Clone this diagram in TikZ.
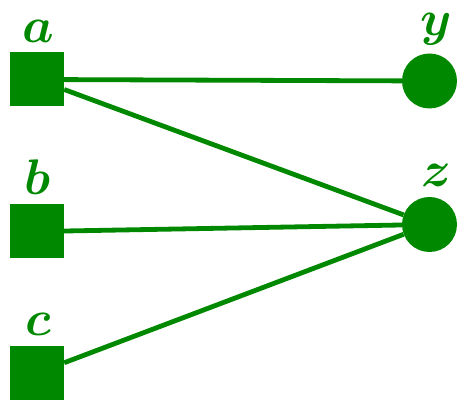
\documentclass[tikz,border=0pt]{standalone}
\usepackage{graphicx}
\usepackage{tikz}
\definecolor{netgreen}{RGB}{0,137,0}
\newcommand{\bigsym}[1]{\scalebox{2.01}{$#1$}}
\begin{document}
\begin{tikzpicture}[x=1pt,y=1pt,
  varnode/.style={rectangle,fill=netgreen,draw=none,minimum size=54pt,inner sep=0pt},
  facnode/.style={circle,fill=netgreen,draw=none,minimum size=55pt,inner sep=0pt},
  tag/.style={text=netgreen,inner sep=0pt,font=\fontsize{24.88}{30}\selectfont\boldmath},
  edge/.style={draw=netgreen,line width=4.8pt}]
\useasboundingbox (0,0) rectangle (459,404);
% square nodes on the left
\node[varnode,label={[tag,label distance=10pt,xshift=1pt]above:\bigsym{a}}] (a) at (37,324.5) {};
\node[varnode,label={[tag,label distance=10pt,xshift=1pt]above:\bigsym{b}}] (b) at (37,172.5) {};
\node[varnode,label={[tag,label distance=10pt,xshift=1pt]above:\bigsym{c}}] (c) at (37,31) {};
% round nodes on the right
\node[facnode,label={[tag,label distance=8pt,xshift=7pt]above:\bigsym{y}}] (y) at (429.5,323) {};
\node[facnode,label={[tag,label distance=10pt,xshift=7pt]above:\bigsym{z}}] (z) at (429.5,179.5) {};
% connections
\draw[edge] (a) -- (y);
\draw[edge] (a) -- (z);
\draw[edge] (b) -- (z);
\draw[edge] (c) -- (z);
\end{tikzpicture}
\end{document}
